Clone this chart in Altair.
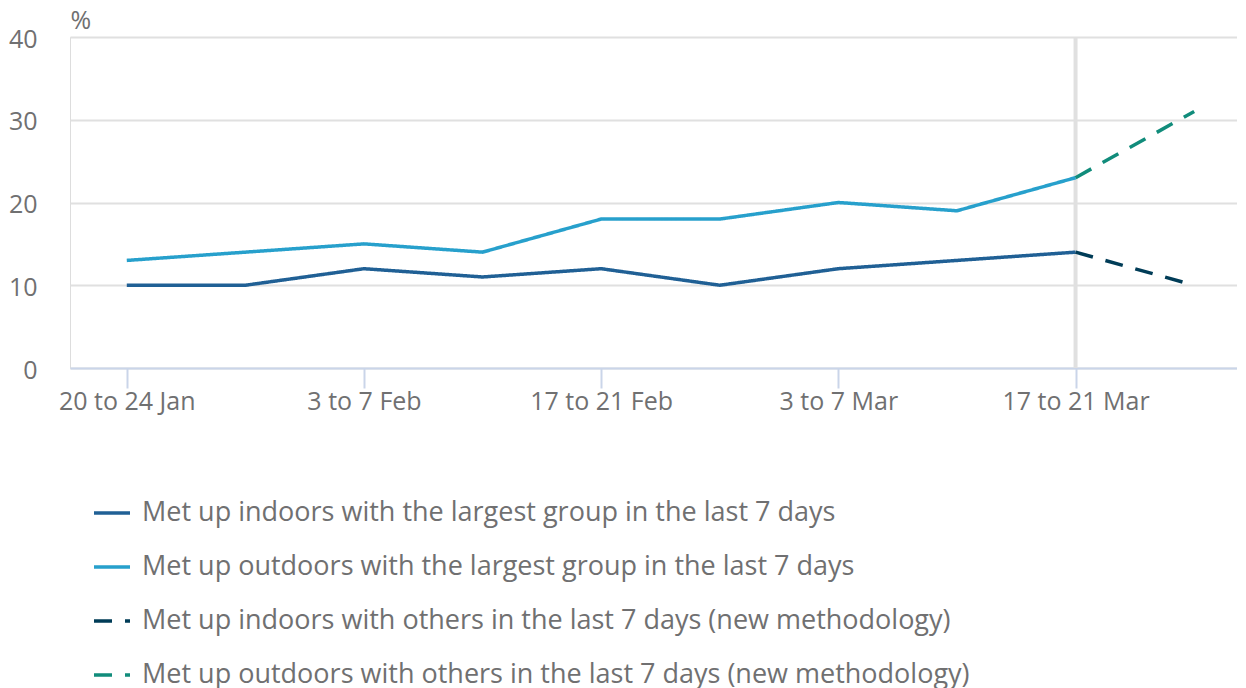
import altair as alt
import pandas as pd

categories = ["20 to 24 Jan", "27 to 31 Jan", "3 to 7 Feb", "10 to 14 Feb", "17 to 21 Feb",
              "24 to 28 Feb", "3 to 7 Mar", "10 to 14 Mar", "17 to 21 Mar", "24 to 28 Mar"]
labelled = ["20 to 24 Jan", "3 to 7 Feb", "17 to 21 Feb", "3 to 7 Mar", "17 to 21 Mar"]

series_names = [
    "Met up indoors with the largest group in the last 7 days",
    "Met up outdoors with the largest group in the last 7 days",
    "Met up indoors with others in the last 7 days (new methodology)",
    "Met up outdoors with others in the last 7 days (new methodology)",
]
indoor_largest = [10, 10, 12, 11, 12, 10, 12, 13, 14]
outdoor_largest = [13, 14, 15, 14, 18, 18, 20, 19, 23]
indoor_new = [14, 10]
outdoor_new = [23, 31]
new_cats = ["17 to 21 Mar", "24 to 28 Mar"]

colors = ["#206095", "#27a0cc", "#003c57", "#118c7b"]
dashes = [[1, 0], [1, 0], [18, 13], [18, 13]]

rows = []
for c, v in zip(categories, indoor_largest):
    rows.append({"period": c, "value": v, "series": series_names[0]})
for c, v in zip(categories, outdoor_largest):
    rows.append({"period": c, "value": v, "series": series_names[1]})
for c, v in zip(new_cats, indoor_new):
    rows.append({"period": c, "value": v, "series": series_names[2]})
for c, v in zip(new_cats, outdoor_new):
    rows.append({"period": c, "value": v, "series": series_names[3]})
df = pd.DataFrame(rows)

grey = "#707071"
font = "Open Sans"

xscale = alt.Scale(domain=categories, type="point", padding=0.42, align=0.57)

legend_opts = dict(title=None, orient="none", legendX=22, legendY=456,
                   direction="vertical", symbolType="stroke",
                   symbolSize=1296, symbolStrokeWidth=3.5,
                   labelFontSize=27, labelColor=grey, labelFont=font,
                   labelLimit=1200, labelOffset=10, rowPadding=21)

rule = alt.Chart(pd.DataFrame({"period": ["17 to 21 Mar"]})).mark_rule(
    color="#e0e0e0", strokeWidth=4
).encode(x=alt.X("period:N", scale=xscale))

lines = alt.Chart(df).mark_line(strokeWidth=3.5).encode(
    x=alt.X("period:N", scale=xscale, sort=categories,
            axis=alt.Axis(values=labelled, title=None, labelAngle=0, grid=False,
                          labelAlign="center", labelBaseline="top",
                          domainColor="#cad5e9", domainWidth=2, tickColor="#cad5e9",
                          tickWidth=2, tickSize=20, labelPadding=1,
                          labelFontSize=25, labelColor=grey, labelFont=font)),
    y=alt.Y("value:Q", scale=alt.Scale(domain=[0, 40]),
            axis=alt.Axis(values=[0, 10, 20, 30, 40], title="%", titleAngle=0,
                          titleX=0, titleY=-4, titleAlign="left", titleBaseline="bottom",
                          titleFontSize=25, titleFontWeight="normal", titleColor=grey,
                          titleFont=font, domain=False, ticks=False, labelPadding=33,
                          labelOffset=2,
                          labelFontSize=25, labelColor=grey, labelFont=font,
                          gridColor="#e0e0e0", gridWidth=2)),
    color=alt.Color("series:N", scale=alt.Scale(domain=series_names, range=colors),
                    legend=alt.Legend(**legend_opts)),
    strokeDash=alt.StrokeDash("series:N", scale=alt.Scale(domain=series_names, range=dashes),
                              legend=alt.Legend(**legend_opts)),
    detail="series:N",
)

chart = alt.layer(rule, lines).properties(
    width=1167, height=331,
    padding={"left": 0, "top": 0, "right": 0, "bottom": 0},
).configure_view(stroke=None).configure(font=font)

chart.save("out.html", embed_options={"renderer": "svg", "actions": False})
